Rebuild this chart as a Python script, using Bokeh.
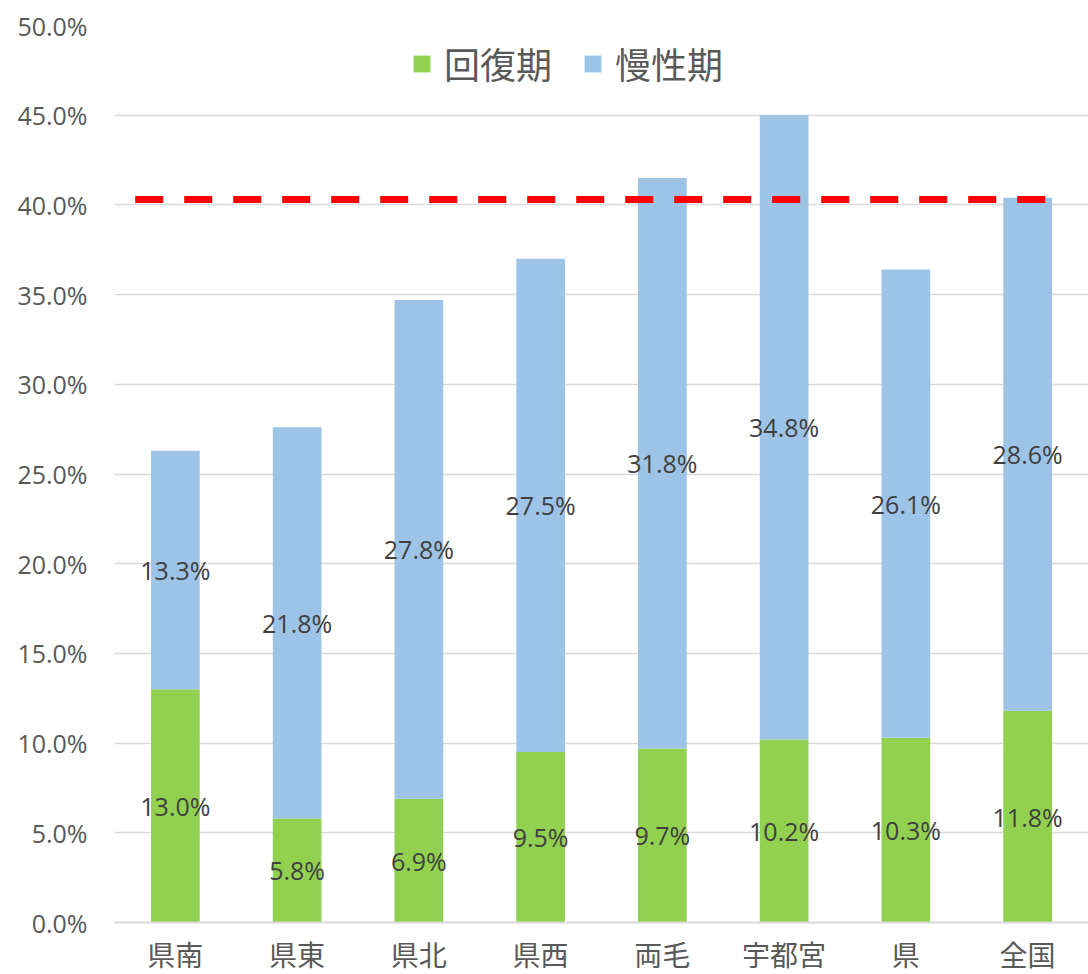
from bokeh.plotting import figure
from bokeh.models import ColumnDataSource, FactorRange, Legend, LegendItem, PrintfTickFormatter, Range1d, FixedTicker
from bokeh.core.properties import value
from bokeh.embed import file_html
from bokeh.resources import INLINE

categories = ["県南", "県東", "県北", "県西", "両毛", "宇都宮", "県", "全国"]
recovery = [13.0, 5.8, 6.9, 9.5, 9.7, 10.2, 10.3, 11.8]
chronic = [13.3, 21.8, 27.8, 27.5, 31.8, 34.8, 26.1, 28.6]
reference_line = 40.3
series_names = ["回復期", "慢性期"]
y_ticks = [0, 5, 10, 15, 20, 25, 30, 35, 40, 45, 50]

GREEN = "#92D050"
BLUE = "#9DC3E6"
JP = "Noto Sans CJK JP"

top = [a + b for a, b in zip(recovery, chronic)]
src = ColumnDataSource(dict(
    cat=categories,
    rec=recovery,
    chr=chronic,
    top=top,
    rec_mid=[a / 2 for a in recovery],
    chr_mid=[a + b / 2 for a, b in zip(recovery, chronic)],
    rec_lbl=["%.1f%%" % v for v in recovery],
    chr_lbl=["%.1f%%" % v for v in chronic],
))

p = figure(
    width=1088, height=974,
    x_range=FactorRange(factors=categories, range_padding=0, factor_padding=0),
    y_range=Range1d(0, 50),
    output_backend="svg", toolbar_location=None,
    min_border_left=114, min_border_right=0, min_border_top=25, min_border_bottom=52,
)
p.outline_line_color = None
p.background_fill_color = "white"

r1 = p.vbar(x="cat", bottom=0, top="rec", width=0.4, source=src, fill_color=GREEN, line_color=None)
r2 = p.vbar(x="cat", bottom="rec", top="top", width=0.4, source=src, fill_color=BLUE, line_color=None)

p.text(x="cat", y="rec_mid", text="rec_lbl", source=src, text_align="center", text_baseline="middle",
       text_font=value("Open Sans"), text_font_size="25px", text_color="#404040")
p.text(x="cat", y="chr_mid", text="chr_lbl", source=src, text_align="center", text_baseline="middle",
       text_font=value("Open Sans"), text_font_size="25px", text_color="#404040")

p.segment(x0=[0.17], x1=[7.67], y0=[reference_line], y1=[reference_line],
          line_color="#FF0000", line_width=7, line_dash="28 21", line_cap="butt")

# axes
p.yaxis.ticker = FixedTicker(ticks=y_ticks)
p.yaxis.formatter = PrintfTickFormatter(format="%.1f%%")
p.yaxis.axis_line_color = None
p.yaxis.major_tick_line_color = None
p.yaxis.major_tick_out = 0
p.yaxis.minor_tick_line_color = None
p.yaxis.major_label_text_font = "Open Sans"
p.yaxis.major_label_text_font_size = "25px"
p.yaxis.major_label_text_color = "#595959"
p.yaxis.major_label_standoff = 27

p.xaxis.axis_line_color = "#D9D9D9"
p.xaxis.axis_line_width = 2
p.xaxis.major_tick_line_color = None
p.xaxis.major_tick_out = 0
p.xaxis.minor_tick_line_color = None
p.xaxis.major_label_text_font = "Liberation Sans, Noto Sans CJK JP"
p.xaxis.major_label_text_font_size = "28px"
p.xaxis.major_label_text_color = "#595959"
p.xaxis.major_label_standoff = 18

p.xgrid.grid_line_color = None
p.ygrid.grid_line_color = "#D9D9D9"
p.ygrid.grid_line_width = 1.5

legend = Legend(
    items=[LegendItem(label=series_names[0], renderers=[r1]), LegendItem(label=series_names[1], renderers=[r2])],
    orientation="horizontal", location=(297, 833),
    glyph_width=21, glyph_height=21, label_standoff=12, spacing=30,
    label_text_font=JP, label_text_font_size="36px", label_text_color="#595959",
    border_line_color=None, background_fill_alpha=0, padding=0, margin=0,
)
p.add_layout(legend, "center")

open("out.html", "w").write(file_html(p, INLINE))
